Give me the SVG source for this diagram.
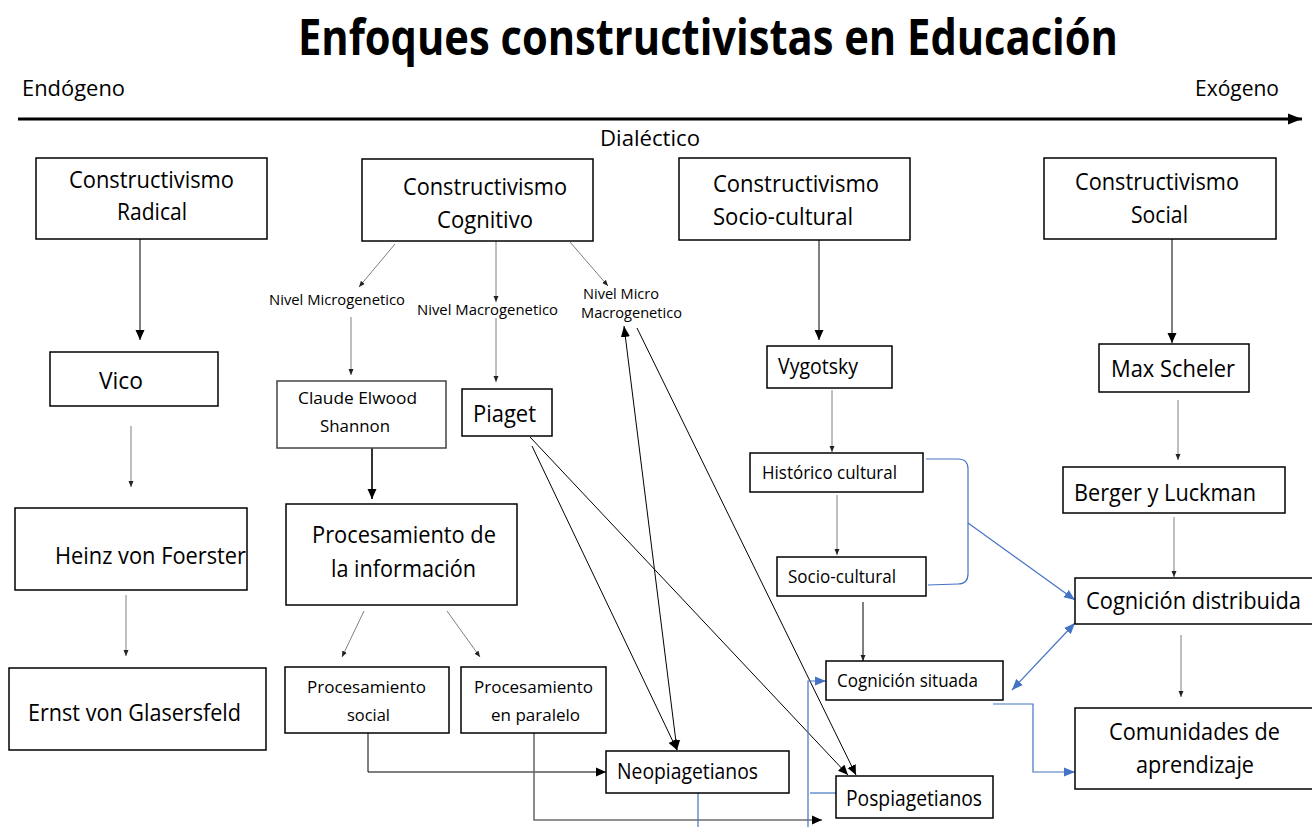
<svg xmlns="http://www.w3.org/2000/svg" width="1312" height="827" viewBox="0 0 1312 827">
<style>
.t{font-family:"Open Sans","Noto Sans","Liberation Sans",sans-serif;fill:#000}
.box{fill:#fff;stroke:#000;stroke-width:1.5}
.gbox{fill:#fff;stroke:#444;stroke-width:1.5}
.k{fill:none;stroke:#000;stroke-width:1}
.g{fill:none;stroke:#7f7f7f;stroke-width:1}
.b{fill:none;stroke:#4472C4;stroke-width:1.2}
.f22{font-size:23px}.f21{font-size:22px}.f18{font-size:18.5px}.f17{font-size:17px}.f15{font-size:15px}
</style>
<defs>
<marker id="ab" markerUnits="userSpaceOnUse" markerWidth="10" markerHeight="10" refX="10" refY="5" orient="auto"><path d="M0,0.5 L10,5 L0,9.5 z" fill="#000"/></marker>
<marker id="as" markerUnits="userSpaceOnUse" markerWidth="6" markerHeight="6" refX="6" refY="3" orient="auto"><path d="M0,0.5 L6,3 L0,5.5 z" fill="#222"/></marker>
<marker id="abl" markerUnits="userSpaceOnUse" markerWidth="11" markerHeight="10" refX="11" refY="5" orient="auto-start-reverse"><path d="M0,0.5 L11,5 L0,9.5 z" fill="#4472C4"/></marker>
<marker id="ad" markerUnits="userSpaceOnUse" markerWidth="11" markerHeight="10" refX="11" refY="5" orient="auto-start-reverse"><path d="M0,0.5 L11,5 L0,9.5 z" fill="#000"/></marker>
<marker id="ax" markerUnits="userSpaceOnUse" markerWidth="14" markerHeight="12" refX="14" refY="6" orient="auto"><path d="M0,0.5 L14,6 L0,11.5 z" fill="#000"/></marker>
</defs>
<rect width="1312" height="827" fill="#fff"/>

<g id="header">
<text class="t" x="298" y="55" font-size="50" font-weight="bold" textLength="820" lengthAdjust="spacingAndGlyphs">Enfoques constructivistas en Educación</text>
<text class="t" x="22" y="96" font-size="21.5" textLength="103" lengthAdjust="spacingAndGlyphs">Endógeno</text>
<text class="t" x="1195" y="96" font-size="21.5" textLength="84" lengthAdjust="spacingAndGlyphs">Exógeno</text>
<text class="t" x="600" y="146" font-size="21.5" textLength="100" lengthAdjust="spacingAndGlyphs">Dialéctico</text>
<line x1="18" y1="119" x2="1302" y2="119" stroke="#000" stroke-width="3" marker-end="url(#ax)"/>
</g>

<g id="connectors">
<line class="k" x1="140" y1="239" x2="140" y2="340" marker-end="url(#ab)"/>
<line class="k" x1="819" y1="240" x2="819" y2="340" marker-end="url(#ab)"/>
<line class="k" x1="1172" y1="239" x2="1172" y2="343" stroke="#333" marker-end="url(#ab)"/>
<line x1="372" y1="448" x2="372" y2="499" stroke="#333" stroke-width="2" marker-end="url(#ab)"/>
<line class="k" x1="532" y1="446" x2="677" y2="750" marker-end="url(#ab)"/>
<line class="k" x1="530" y1="437" x2="848" y2="775" marker-end="url(#ab)"/>
<line class="k" x1="624" y1="326" x2="677" y2="750" marker-start="url(#ad)" marker-end="url(#ab)"/>
<line class="k" x1="637" y1="328" x2="856" y2="775" marker-end="url(#ab)"/>
<polyline class="k" points="368,733 368,772 606,772" marker-end="url(#ab)"/>
<polyline fill="none" stroke="#6d6d6d" stroke-width="1.6" points="534,733 534,820 822,820" marker-end="url(#ab)"/>
<line class="k" x1="863" y1="602" x2="863" y2="661" marker-end="url(#as)"/>

<line class="g" x1="395" y1="244" x2="359" y2="287" marker-end="url(#as)"/>
<line class="g" x1="496" y1="241" x2="496" y2="302" marker-end="url(#as)"/>
<line class="g" x1="570" y1="242" x2="608" y2="286" marker-end="url(#as)"/>
<line class="g" x1="351" y1="317" x2="351" y2="375" marker-end="url(#as)"/>
<line class="g" x1="496" y1="318" x2="496" y2="382" marker-end="url(#as)"/>
<line class="g" x1="131" y1="426" x2="131" y2="487" marker-end="url(#as)"/>
<line class="g" x1="126" y1="595" x2="126" y2="656" marker-end="url(#as)"/>
<line class="g" x1="364" y1="611" x2="342" y2="657" marker-end="url(#as)"/>
<line class="g" x1="447" y1="611" x2="480" y2="657" marker-end="url(#as)"/>
<line class="g" x1="832" y1="390" x2="832" y2="452" marker-end="url(#as)"/>
<line class="g" x1="837" y1="495" x2="837" y2="555" marker-end="url(#as)"/>
<line class="g" x1="1178" y1="400" x2="1178" y2="460" marker-end="url(#as)"/>
<line class="g" x1="1174" y1="517" x2="1174" y2="577" marker-end="url(#as)"/>
<line class="g" x1="1181" y1="635" x2="1181" y2="697" marker-end="url(#as)"/>

<path class="b" d="M926,459 L958,459 Q968,459 968,469 L968,574 Q968,584 958,584 L928,585"/>
<line class="b" x1="968" y1="523" x2="1075" y2="600" marker-end="url(#abl)"/>
<line class="b" x1="1012" y1="690" x2="1075" y2="623" marker-start="url(#abl)" marker-end="url(#abl)"/>
<polyline class="b" points="993,704 1033,704 1033,772 1075,772" marker-end="url(#abl)"/>
<line class="b" x1="698" y1="793" x2="698" y2="827"/>
<polyline class="b" points="808,827 808,681 826,681" marker-end="url(#abl)"/>
<line class="b" x1="810" y1="793" x2="837" y2="793"/>
</g>

<g id="n-radical"><rect class="box" x="36" y="158" width="231" height="81"/>
<text class="t f22" x="69" y="188" textLength="165" lengthAdjust="spacingAndGlyphs">Constructivismo</text>
<text class="t f22" x="117" y="220" textLength="70" lengthAdjust="spacingAndGlyphs">Radical</text></g>

<g id="n-cognitivo"><rect class="box" x="362" y="159" width="231" height="82"/>
<text class="t f22" x="403" y="195" textLength="164" lengthAdjust="spacingAndGlyphs">Constructivismo</text>
<text class="t f22" x="437" y="228" textLength="96" lengthAdjust="spacingAndGlyphs">Cognitivo</text></g>

<g id="n-sociocultural-top"><rect class="box" x="679" y="158" width="231" height="82"/>
<text class="t f22" x="713" y="192" textLength="166" lengthAdjust="spacingAndGlyphs">Constructivismo</text>
<text class="t f22" x="713" y="225" textLength="140" lengthAdjust="spacingAndGlyphs">Socio-cultural</text></g>

<g id="n-social"><rect class="box" x="1044" y="158" width="232" height="81"/>
<text class="t f22" x="1075" y="190" textLength="164" lengthAdjust="spacingAndGlyphs">Constructivismo</text>
<text class="t f22" x="1131" y="223" textLength="57" lengthAdjust="spacingAndGlyphs">Social</text></g>

<g id="n-nivel-micro"><text class="t f15" x="269" y="305" textLength="136" lengthAdjust="spacingAndGlyphs">Nivel Microgenetico</text></g>
<g id="n-nivel-macro"><text class="t f15" x="417" y="315" textLength="141" lengthAdjust="spacingAndGlyphs">Nivel Macrogenetico</text></g>
<g id="n-nivel-micromacro"><text class="t f15" x="583" y="299" textLength="76" lengthAdjust="spacingAndGlyphs">Nivel Micro</text>
<text class="t f15" x="581" y="318" textLength="101" lengthAdjust="spacingAndGlyphs">Macrogenetico</text></g>

<g id="n-vico"><rect class="box" x="50" y="352" width="168" height="54"/>
<text class="t f22" x="99" y="389" textLength="44" lengthAdjust="spacingAndGlyphs">Vico</text></g>

<g id="n-shannon"><rect class="gbox" x="277" y="381" width="169" height="67"/>
<text class="t f17" x="298" y="404" textLength="119" lengthAdjust="spacingAndGlyphs" fill="#222">Claude Elwood</text>
<text class="t f17" x="320" y="432" textLength="70" lengthAdjust="spacingAndGlyphs" fill="#222">Shannon</text></g>

<g id="n-piaget"><rect class="box" x="462" y="389" width="90" height="47"/>
<text class="t f22" x="473" y="422" textLength="63" lengthAdjust="spacingAndGlyphs">Piaget</text></g>

<g id="n-vygotsky"><rect class="box" x="767" y="346" width="125" height="42"/>
<text class="t f21" x="778" y="374" textLength="80" lengthAdjust="spacingAndGlyphs">Vygotsky</text></g>

<g id="n-scheler"><rect class="box" x="1099" y="344" width="150" height="48"/>
<text class="t f22" x="1111" y="377" textLength="124" lengthAdjust="spacingAndGlyphs">Max Scheler</text></g>

<g id="n-heinz"><rect class="box" x="15" y="508" width="232" height="82"/>
<text class="t f22" x="55" y="564" textLength="191" lengthAdjust="spacingAndGlyphs">Heinz von Foerster</text></g>

<g id="n-procinfo"><rect class="box" x="286" y="504" width="231" height="101"/>
<text class="t f22" x="312" y="543" textLength="184" lengthAdjust="spacingAndGlyphs">Procesamiento de</text>
<text class="t f22" x="331" y="577" textLength="145" lengthAdjust="spacingAndGlyphs">la información</text></g>

<g id="n-historico"><rect class="box" x="750" y="453" width="173" height="39"/>
<text class="t f18" x="762" y="479" textLength="135" lengthAdjust="spacingAndGlyphs">Histórico cultural</text></g>

<g id="n-berger"><rect class="box" x="1063" y="467" width="222" height="46"/>
<text class="t f22" x="1074" y="501" textLength="182" lengthAdjust="spacingAndGlyphs">Berger y Luckman</text></g>

<g id="n-sociocultural"><rect class="box" x="777" y="557" width="149" height="39"/>
<text class="t f18" x="788" y="583" textLength="108" lengthAdjust="spacingAndGlyphs">Socio-cultural</text></g>

<g id="n-cogdist"><rect class="box" x="1075" y="578" width="245" height="46"/>
<text class="t f22" x="1086" y="609" textLength="215" lengthAdjust="spacingAndGlyphs">Cognición distribuida</text></g>

<g id="n-ernst"><rect class="box" x="9" y="668" width="257" height="82"/>
<text class="t f22" x="28" y="721" textLength="213" lengthAdjust="spacingAndGlyphs">Ernst von Glasersfeld</text></g>

<g id="n-procsocial"><rect class="box" x="285" y="667" width="164" height="66"/>
<text class="t f17" x="307" y="693" textLength="119" lengthAdjust="spacingAndGlyphs">Procesamiento</text>
<text class="t f17" x="347" y="721" textLength="43" lengthAdjust="spacingAndGlyphs">social</text></g>

<g id="n-procparalelo"><rect class="box" x="461" y="667" width="145" height="66"/>
<text class="t f17" x="474" y="693" textLength="119" lengthAdjust="spacingAndGlyphs">Procesamiento</text>
<text class="t f17" x="491" y="721" textLength="89" lengthAdjust="spacingAndGlyphs">en paralelo</text></g>

<g id="n-cogsituada"><rect class="box" x="826" y="661" width="177" height="39"/>
<text class="t f18" x="837" y="687" textLength="141" lengthAdjust="spacingAndGlyphs">Cognición situada</text></g>

<g id="n-comunidades"><rect class="box" x="1075" y="708" width="245" height="81"/>
<text class="t f22" x="1109" y="740" textLength="171" lengthAdjust="spacingAndGlyphs">Comunidades de</text>
<text class="t f22" x="1136" y="773" textLength="118" lengthAdjust="spacingAndGlyphs">aprendizaje</text></g>

<g id="n-neo"><rect class="box" x="606" y="751" width="183" height="42"/>
<text class="t f21" x="617" y="779" textLength="141" lengthAdjust="spacingAndGlyphs">Neopiagetianos</text></g>

<g id="n-pos"><rect class="box" x="836" y="776" width="157" height="42"/>
<text class="t f21" x="846" y="806" textLength="136" lengthAdjust="spacingAndGlyphs">Pospiagetianos</text></g>
</svg>
